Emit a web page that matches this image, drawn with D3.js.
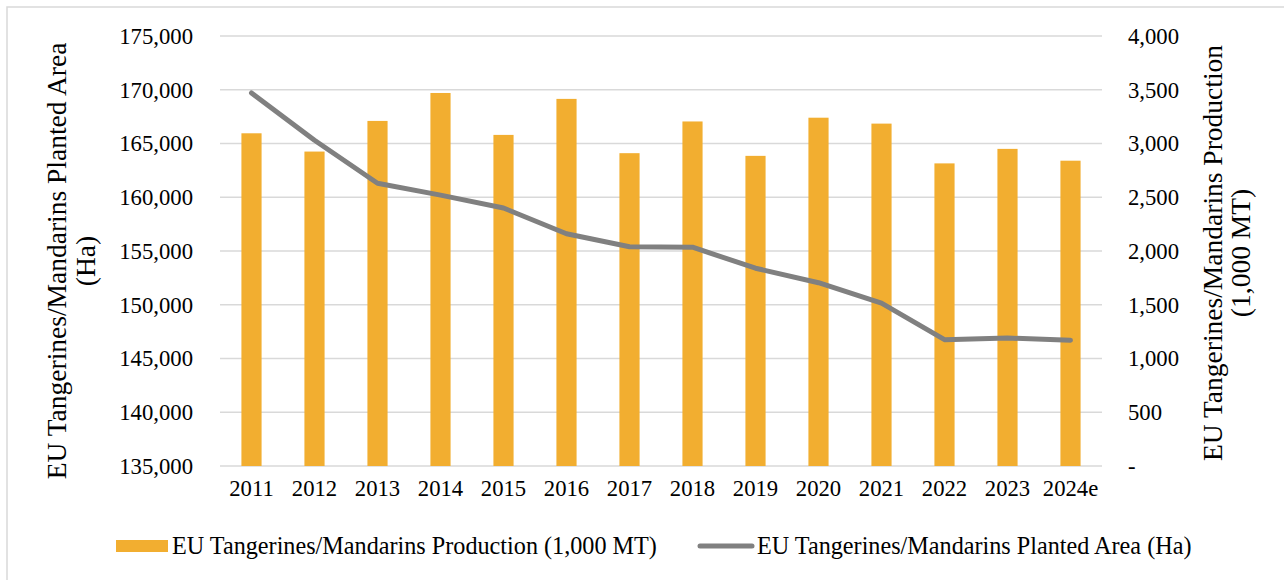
<!DOCTYPE html>
<html>
<head>
<meta charset="utf-8">
<script src="https://cdn.jsdelivr.net/npm/d3@7"></script>
<style>
  html, body { margin: 0; padding: 0; background: #fff; }
  svg { display: block; }
  text { font-family: "Liberation Serif", "Times New Roman", serif; fill: #000; }
</style>
</head>
<body>
<svg id="chart" width="1284" height="580"></svg>
<script>
const years = ["2011","2012","2013","2014","2015","2016","2017","2018","2019","2020","2021","2022","2023","2024e"];
const production = [3095, 2925, 3210, 3470, 3080, 3415, 2910, 3205, 2885, 3240, 3185, 2815, 2950, 2840];
const plantedArea = [169700, 165300, 161300, 160200, 159000, 156600, 155400, 155350, 153400, 152050, 150150, 146750, 146900, 146700];
const leftTicks = [135000, 140000, 145000, 150000, 155000, 160000, 165000, 170000, 175000];
const rightTicks = [0, 500, 1000, 1500, 2000, 2500, 3000, 3500, 4000];
const seriesNames = ["EU Tangerines/Mandarins Production (1,000 MT)", "EU Tangerines/Mandarins Planted Area (Ha)"];
const leftTitle = ["EU Tangerines/Mandarins Planted Area", "(Ha)"];
const rightTitle = ["EU Tangerines/Mandarins Production", "(1,000 MT)"];

const barColor = "#F2AE30";
const lineColor = "#808080";
const gridColor = "#D9D9D9";
const fs = 22.7;
const titleFs = 27.5;
const legendFs = 24.2;

const svg = d3.select("#chart");
const L = 220, R = 1102, T = 36, B = 466;

// outer border
svg.append("rect").attr("x", 7).attr("y", 7).attr("width", 1290).attr("height", 590)
  .attr("fill", "none").attr("stroke", gridColor).attr("stroke-width", 1.5);

const x = d3.scaleBand().domain(years).range([L, R]).paddingInner(0.68).paddingOuter(0.34);
const yL = d3.scaleLinear().domain([135000, 175000]).range([B, T]);
const yR = d3.scaleLinear().domain([0, 4000]).range([B, T]);

// gridlines
svg.append("g").selectAll("line").data(leftTicks).join("line")
  .attr("x1", L).attr("x2", R)
  .attr("y1", d => yL(d)).attr("y2", d => yL(d))
  .attr("stroke", gridColor).attr("stroke-width", 1.5);

// bars
svg.append("g").selectAll("rect").data(years).join("rect")
  .attr("x", d => x(d)).attr("width", x.bandwidth())
  .attr("y", (d, i) => yR(production[i]))
  .attr("height", (d, i) => yR(0) - yR(production[i]))
  .attr("fill", barColor);

// line
const line = d3.line()
  .x((d, i) => x(years[i]) + x.bandwidth() / 2)
  .y(d => yL(d));
svg.append("path").datum(plantedArea)
  .attr("d", line).attr("fill", "none")
  .attr("stroke", lineColor).attr("stroke-width", 5)
  .attr("stroke-linejoin", "round").attr("stroke-linecap", "round");

const fmt = d3.format(",");

// left axis
const leftAxis = d3.axisLeft(yL).tickValues(leftTicks).tickFormat(fmt).tickSize(0).tickPadding(27);
const gl = svg.append("g").attr("transform", `translate(${L},0)`).call(leftAxis);
gl.select(".domain").remove();
gl.selectAll("text").style("font-size", fs + "px").style("font-family", "Liberation Serif");

// right axis
const rightAxis = d3.axisRight(yR).tickValues(rightTicks)
  .tickFormat(d => d === 0 ? "-" : fmt(d)).tickSize(0).tickPadding(26);
const gr = svg.append("g").attr("transform", `translate(${R},0)`).call(rightAxis);
gr.select(".domain").remove();
gr.selectAll("text").style("font-size", fs + "px").style("font-family", "Liberation Serif");

// bottom axis
const bottomAxis = d3.axisBottom(x).tickSize(0).tickPadding(14);
const gb = svg.append("g").attr("transform", `translate(0,${B})`).call(bottomAxis);
gb.select(".domain").remove();
gb.selectAll("text").style("font-size", fs + "px").style("font-family", "Liberation Serif");

// axis titles
const lt = svg.append("text").attr("transform", `translate(0,261) rotate(-90)`)
  .attr("text-anchor", "middle").style("font-size", titleFs + "px");
lt.append("tspan").attr("x", 0).attr("y", 66).text(leftTitle[0]);
lt.append("tspan").attr("x", 0).attr("y", 95).text(leftTitle[1]);

const rt = svg.append("text").attr("transform", `translate(0,253) rotate(-90)`)
  .attr("text-anchor", "middle").style("font-size", titleFs + "px");
rt.append("tspan").attr("x", 0).attr("y", 1222).text(rightTitle[0]);
rt.append("tspan").attr("x", 0).attr("y", 1250).text(rightTitle[1]);

// legend
const ly = 546;
svg.append("rect").attr("x", 116).attr("y", ly - 6).attr("width", 52).attr("height", 12).attr("fill", barColor);
svg.append("text").attr("x", 172).attr("y", ly).attr("dy", "0.33em")
  .style("font-size", legendFs + "px").text(seriesNames[0]);
svg.append("line").attr("x1", 700).attr("x2", 752).attr("y1", ly).attr("y2", ly)
  .attr("stroke", lineColor).attr("stroke-width", 5).attr("stroke-linecap", "round");
svg.append("text").attr("x", 757).attr("y", ly).attr("dy", "0.33em")
  .style("font-size", legendFs + "px").text(seriesNames[1]);
</script>
</body>
</html>
